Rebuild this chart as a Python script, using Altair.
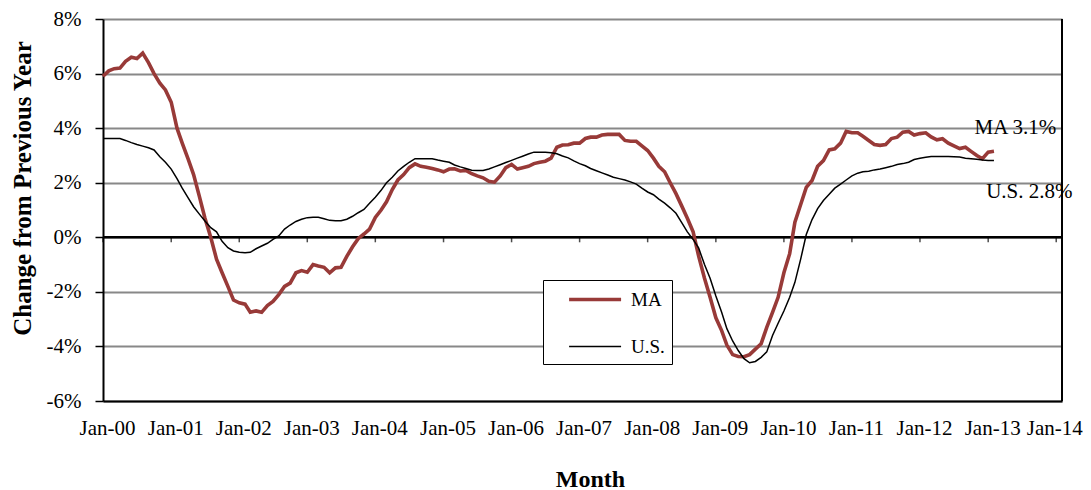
import altair as alt
import pandas as pd

# Year-over-year change (%), monthly from Jan-2000
ma_values = [
    5.9, 6.1, 6.18, 6.2, 6.45, 6.6, 6.55, 6.75, 6.4, 6.0, 5.65, 5.4,
    4.95, 4.0, 3.45, 2.88, 2.3, 1.5, 0.7, 0.0, -0.8, -1.3, -1.8, -2.3,
    -2.4, -2.45, -2.75, -2.7, -2.75, -2.5, -2.35, -2.1, -1.8, -1.68, -1.3, -1.22,
    -1.28, -1.0, -1.05, -1.1, -1.3, -1.12, -1.1, -0.7, -0.35, -0.05, 0.12, 0.3,
    0.73, 1.0, 1.3, 1.75, 2.1, 2.3, 2.55, 2.69, 2.6, 2.57, 2.52, 2.47,
    2.4, 2.5, 2.51, 2.43, 2.45, 2.33, 2.25, 2.18, 2.05, 2.02, 2.25, 2.55,
    2.67, 2.5, 2.55, 2.6, 2.7, 2.75, 2.79, 2.9, 3.3, 3.38, 3.39, 3.45,
    3.45, 3.62, 3.67, 3.67, 3.75, 3.77, 3.77, 3.77, 3.55, 3.52, 3.52, 3.35,
    3.18, 2.9, 2.6, 2.4, 2.0, 1.6, 1.16, 0.7, 0.2, -0.7, -1.5, -2.2,
    -2.95, -3.42, -3.95, -4.3, -4.37, -4.38, -4.3, -4.1, -3.9, -3.3, -2.75, -2.2,
    -1.3, -0.6, 0.55, 1.2, 1.83, 2.08, 2.6, 2.81, 3.2, 3.24, 3.45, 3.88,
    3.83, 3.83, 3.7, 3.55, 3.4, 3.37, 3.4, 3.62, 3.67, 3.85, 3.88, 3.75,
    3.8, 3.83, 3.68, 3.57, 3.61, 3.45, 3.35, 3.25, 3.3, 3.15, 3.0, 2.88,
    3.12, 3.15,
]
us_values = [
    3.62, 3.62, 3.62, 3.62, 3.55, 3.47, 3.4, 3.34, 3.28, 3.2, 2.95, 2.75,
    2.5, 2.15, 1.8, 1.45, 1.12, 0.85, 0.6, 0.35, 0.2, -0.15, -0.38, -0.5,
    -0.55, -0.57, -0.55, -0.42, -0.32, -0.22, -0.08, 0.05, 0.3, 0.45, 0.58, 0.66,
    0.72, 0.73, 0.73, 0.68, 0.62, 0.61, 0.61, 0.66, 0.77, 0.9, 1.02, 1.25,
    1.47, 1.72, 2.0, 2.2, 2.43, 2.6, 2.75, 2.88, 2.88, 2.88, 2.88, 2.83,
    2.79, 2.75, 2.65, 2.58, 2.52, 2.46, 2.45, 2.45, 2.5, 2.58, 2.66, 2.74,
    2.82, 2.9, 2.97, 3.05, 3.12, 3.12, 3.12, 3.1, 3.06, 2.98, 2.91, 2.8,
    2.7, 2.62, 2.52, 2.44, 2.36, 2.28, 2.2, 2.15, 2.1, 2.03, 1.95, 1.8,
    1.66, 1.56, 1.4, 1.25, 1.08, 0.88, 0.55, 0.2, -0.08, -0.4, -1.0, -1.5,
    -2.15, -2.75, -3.35, -3.8, -4.15, -4.45, -4.6, -4.55, -4.4, -4.2, -3.6, -3.15,
    -2.7, -2.2, -1.65, -0.8, 0.1, 0.65, 1.05, 1.35, 1.58, 1.8, 1.95, 2.1,
    2.25, 2.35, 2.4, 2.42, 2.47, 2.5, 2.55, 2.6, 2.67, 2.7, 2.75, 2.85,
    2.9, 2.93, 2.96, 2.96, 2.96, 2.96, 2.95, 2.94, 2.9, 2.88, 2.86, 2.83,
    2.81, 2.81,
]
series_names = ["MA", "U.S."]
series_colors = ["#983A38", "#000000"]
series_widths = [3.6, 1.5]

tick_years = list(range(2000, 2015))
y_ticks = [-6, -4, -2, 0, 2, 4, 6, 8]

annot_text = ["MA 3.1%", "U.S. 2.8%"]
annot_date = ["2012-10-20T00:00:00", "2012-12-21T00:00:00"]
annot_value = [3.8, 1.45]

n = len(ma_values)
dates = list(pd.date_range("2000-01-01", periods=n, freq="MS").strftime("%Y-%m-%dT00:00:00"))
df = pd.DataFrame({
    "date": dates * 2,
    "value": ma_values + us_values,
    "series": [series_names[0]] * n + [series_names[1]] * n,
})
ticks_df = pd.DataFrame({"date": [f"{y}-01-01T00:00:00" for y in tick_years]})
annot_df = pd.DataFrame({"date": annot_date, "value": annot_value, "label": annot_text})

FONT = "Liberation Serif"
x_domain = [alt.DateTime(year=2000, month=1, date=1), alt.DateTime(year=2014, month=2, date=1)]
x_scale = alt.Scale(domain=x_domain)
y_scale = alt.Scale(domain=[-6, 8], nice=False)

x_axis = alt.Axis(
    values=[alt.DateTime(year=y, month=1, date=1) for y in tick_years],
    format="%b-%y", ticks=False, tickSize=0, grid=False,
    domainColor="black", domainWidth=2,
    labelFont=FONT, labelFontSize=21, labelColor="black", labelPadding=16,
    labelOffset={"expr": "year(datum.value) >= 2014 ? -2 : 4"},
    labelOverlap=False, labelFlush=False, labelBound=False,
    title="Month", titleFont=FONT, titleFontSize=24, titleFontWeight="bold", titleColor="black",
    titleX=487, titleY=85, titleBaseline="alphabetic", titleAlign="center",
)
y_axis = alt.Axis(
    values=y_ticks, labelExpr="datum.value + '%'",
    grid=True, gridColor="#888888", gridWidth=1.8,
    domainColor="black", domainWidth=2, tickColor="black", tickSize=8, tickWidth=1.5,
    labelFont=FONT, labelFontSize=21, labelColor="black", labelPadding=14,
    labelFlush=False,
    title="Change from Previous Year", titleFont=FONT, titleFontSize=25, titleFontWeight="bold",
    titleColor="black", titleX=-81, titleY=169, titleAngle=270, titleBaseline="middle", titleAlign="center",
)

legend = alt.Legend(
    title=None, orient="none", legendX=440, legendY=261, direction="vertical",
    strokeColor="black", fillColor="white", padding=7,
    symbolType="M0.635,0H5.63", symbolSize=433, labelOffset=56, rowPadding=25,
    labelFont=FONT, labelFontSize=19, labelColor="black",
    labelExpr="datum.label + '      '",
)

zero_rule = alt.Chart(pd.DataFrame({"v": [0]})).mark_rule(color="black", strokeWidth=2.5).encode(
    y=alt.Y("v:Q", scale=y_scale, axis=y_axis)
)
zero_ticks = alt.Chart(ticks_df).mark_tick(
    orient="vertical", size=5, thickness=1.5, yOffset=2.5, color="black"
).encode(
    x=alt.X("date:T", scale=x_scale, axis=x_axis),
    y=alt.datum(0),
)
right_border = alt.Chart(pd.DataFrame({"d": ["2014-02-01T00:00:00"]})).mark_rule(
    color="black", strokeWidth=2
).encode(x=alt.X("d:T", scale=x_scale))

lines = alt.Chart(df).mark_line().encode(
    x=alt.X("date:T", scale=x_scale, axis=x_axis),
    y=alt.Y("value:Q", scale=y_scale, axis=y_axis),
    color=alt.Color("series:N", scale=alt.Scale(domain=series_names, range=series_colors), legend=legend),
    strokeWidth=alt.StrokeWidth("series:N", scale=alt.Scale(domain=series_names, range=series_widths), legend=legend),
)

annots = alt.Chart(annot_df).mark_text(
    align="left", baseline="alphabetic", font=FONT, fontSize=21, color="black"
).encode(
    x=alt.X("date:T", scale=x_scale),
    y=alt.Y("value:Q", scale=y_scale),
    text="label:N",
)

chart = alt.layer(zero_rule, zero_ticks, right_border, lines, annots).properties(
    width=959, height=382,
    autosize=alt.AutoSizeParams(type="none"),
    padding={"left": 95, "top": 11, "right": 21, "bottom": 89},
).configure_view(stroke=None).configure(background="white")

chart.save("out.html", embed_options={"renderer": "svg", "actions": False})
